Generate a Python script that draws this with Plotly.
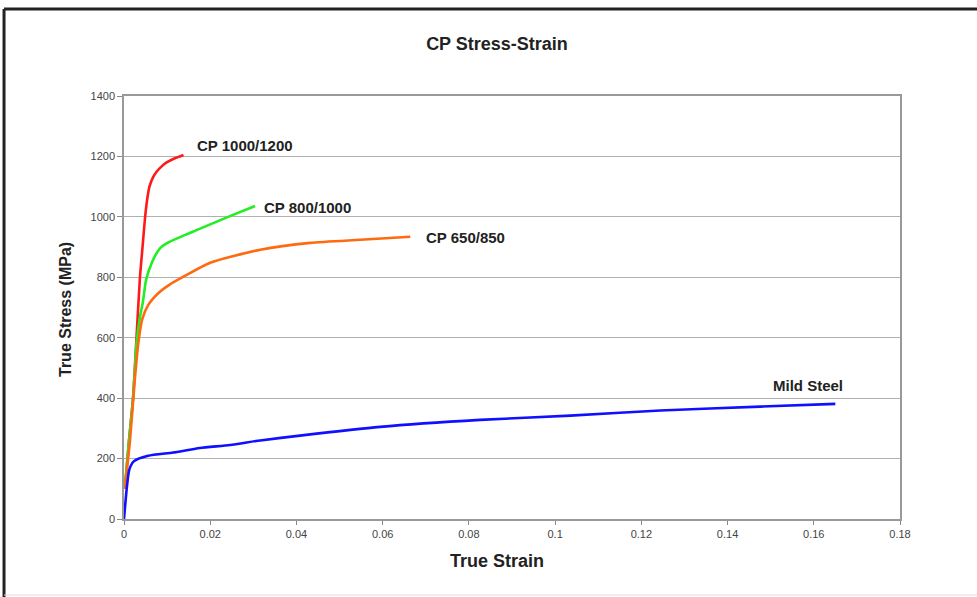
import plotly.graph_objects as go

# ---- data ----
cp1000_strain = [0.0002, 0.0011, 0.0021, 0.0029, 0.0037, 0.0043, 0.0049, 0.0054, 0.0059, 0.0067, 0.0076, 0.0088, 0.0099, 0.0118, 0.0138]
cp1000_stress = [100, 250, 400, 600, 800, 900, 1000, 1060, 1100, 1130, 1150, 1168, 1180, 1194, 1205]

cp800_strain = [0.0002, 0.0011, 0.0021, 0.0029, 0.0036, 0.0044, 0.0051, 0.0065, 0.0083, 0.0104, 0.015, 0.020, 0.025, 0.0304]
cp800_stress = [100, 250, 400, 580, 660, 720, 790, 850, 895, 916, 945, 975, 1005, 1036]

cp650_strain = [0.0002, 0.0014, 0.0025, 0.0033, 0.0042, 0.0056, 0.008, 0.0105, 0.0137, 0.020, 0.0316, 0.0432, 0.0548, 0.0664]
cp650_stress = [100, 262, 460, 580, 660, 708, 748, 775, 801, 848, 891, 914, 924, 934]

mild_strain = [0, 0.0006, 0.0012, 0.0022, 0.0056, 0.0114, 0.0176, 0.0246, 0.0316, 0.0408, 0.0594, 0.0826, 0.1035, 0.1244, 0.1476, 0.165]
mild_stress = [0, 96, 162, 190, 209, 220, 235, 245, 260, 276, 305, 328, 342, 359, 372, 381]

series_names = ["CP 1000/1200", "CP 800/1000", "CP 650/850", "Mild Steel"]
series_colors = ["#ff1a1a", "#22ee22", "#ff6a10", "#1010ff"]

label_x = [0.0164, 0.0320, 0.0696, 0.1587]
label_y = [1235, 1030, 933, 443]
label_anchor = ["left", "left", "left", "center"]

x_ticks = [0, 0.02, 0.04, 0.06, 0.08, 0.1, 0.12, 0.14, 0.16, 0.18]
x_ticktext = ["0", "0.02", "0.04", "0.06", "0.08", "0.1", "0.12", "0.14", "0.16", "0.18"]
y_ticks = [0, 200, 400, 600, 800, 1000, 1200, 1400]

xs = [cp1000_strain, cp800_strain, cp650_strain, mild_strain]
ys = [cp1000_stress, cp800_stress, cp650_stress, mild_stress]

FONT = "Liberation Sans, Arial"

fig = go.Figure()
for name, x, y, c in zip(series_names, xs, ys, series_colors):
    fig.add_trace(go.Scatter(x=x, y=y, mode="lines", name=name,
                             line=dict(color=c, width=2.6, shape="spline", smoothing=0.6)))

for name, lx, ly, anc in zip(series_names, label_x, label_y, label_anchor):
    fig.add_annotation(x=lx, y=ly, text="<b>" + name + "</b>", showarrow=False,
                       xanchor=anc, yanchor="middle",
                       font=dict(family=FONT, size=15, color="#222222"))

# axis titles as paper annotations for precise placement
fig.add_annotation(xref="paper", yref="paper", x=(497 - 124) / 776, y=(519 - 561) / 423,
                   text="<b>True Strain</b>", showarrow=False, xanchor="center", yanchor="middle",
                   font=dict(family=FONT, size=18, color="#222222"))
fig.add_annotation(xref="paper", yref="paper", x=(65 - 124) / 776, y=(519 - 310) / 423,
                   text="<b>True Stress (MPa)</b>", showarrow=False, textangle=-90,
                   xanchor="center", yanchor="middle",
                   font=dict(family=FONT, size=16, color="#222222"))

# outer frame (left/top dark, bottom faint)
fig.add_shape(type="line", xref="paper", yref="paper", x0=-0.1546, x1=-0.1546, y0=-0.185, y1=1.2057,
              line=dict(color="#222222", width=3))
fig.add_shape(type="line", xref="paper", yref="paper", x0=-0.1546, x1=1.12, y0=1.2057, y1=1.2057,
              line=dict(color="#222222", width=3))
fig.add_shape(type="line", xref="paper", yref="paper", x0=-0.1546, x1=1.12, y0=-0.1797, y1=-0.1797,
              line=dict(color="#dddddd", width=1))

axis_font = dict(family=FONT, size=11, color="#444444")
fig.update_layout(
    width=977, height=597,
    margin=dict(l=124, r=77, t=96, b=78),
    paper_bgcolor="white", plot_bgcolor="white",
    showlegend=False,
    title=dict(text="<b>CP Stress-Strain</b>", x=(497 - 124) / 776, xref="paper", xanchor="center",
               y=1 - 44 / 597, yanchor="middle",
               font=dict(family=FONT, size=18, color="#222222")),
    xaxis=dict(range=[0, 0.18], tickvals=x_ticks, ticktext=x_ticktext, showgrid=False,
               ticks="outside", ticklen=4, tickcolor="#888888", tickfont=axis_font,
               showline=True, linecolor="#999999", linewidth=1.5, mirror=True, zeroline=False),
    yaxis=dict(range=[0, 1400], tickvals=y_ticks, showgrid=True, gridcolor="#b0b0b0", gridwidth=1,
               ticks="outside", ticklen=5, tickcolor="#888888", tickfont=axis_font,
               showline=True, linecolor="#999999", linewidth=1.5, mirror=True, zeroline=False),
)

fig.write_html("out.html")
